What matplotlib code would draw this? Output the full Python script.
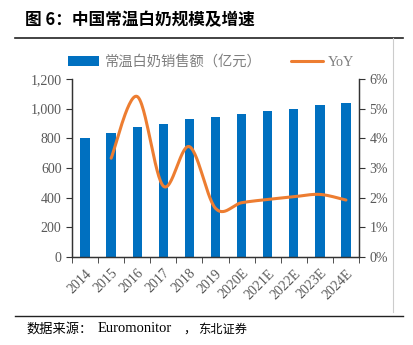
import numpy as np
import matplotlib
matplotlib.use('Agg')
import matplotlib.pyplot as plt
from matplotlib.ticker import FuncFormatter, FixedLocator

years = ['2014', '2015', '2016', '2017', '2018', '2019',
         '2020E', '2021E', '2022E', '2023E', '2024E']
sales = [803, 833, 877, 900, 931, 946, 963, 981, 1001, 1024, 1037]
yoy = [np.nan, 3.33, 5.41, 2.39, 3.72, 1.64, 1.83, 1.94, 2.03, 2.11, 1.92]

blue = '#0070C0'
orange = '#ED7D31'
gray = '#595959'
serif = ['Liberation Serif', 'Noto Sans CJK SC']
cjk = ['Noto Sans CJK SC', 'DejaVu Sans']


def smooth(x, y, n=30):
  # catmull-rom style curve through the points, like Excel smoothed lines
  x, y = np.asarray(x, float), np.asarray(y, float)
  px, py = [], []
  for i in range(len(x) - 1):
    x0, y0 = (x[i-1], y[i-1]) if i > 0 else (x[i], y[i])
    x3, y3 = (x[i+2], y[i+2]) if i + 2 < len(x) else (x[i+1], y[i+1])
    x1, y1, x2, y2 = x[i], y[i], x[i+1], y[i+1]
    t = np.linspace(0, 1, n)
    c1x, c1y = x1 + (x2 - x0) / 6, y1 + (y2 - y0) / 6
    c2x, c2y = x2 - (x3 - x1) / 6, y2 - (y3 - y1) / 6
    bx = (1-t)**3*x1 + 3*(1-t)**2*t*c1x + 3*(1-t)*t**2*c2x + t**3*x2
    by = (1-t)**3*y1 + 3*(1-t)**2*t*c1y + 3*(1-t)*t**2*c2y + t**3*y2
    px.extend(bx)
    py.extend(by)
  return np.array(px), np.array(py)


fig = plt.figure(figsize=(4.13, 3.45), dpi=100)
ax = fig.add_axes([72/413, 1-257/345, 287/413, 178/345])
ax2 = ax.twinx()

x = np.arange(len(years))
bars = ax.bar(x, sales, width=0.36, color=blue, zorder=2)
xs, ys = smooth(x[1:], np.array(yoy[1:]))
line, = ax2.plot(xs, ys, color=orange, lw=2.2, solid_capstyle='round')

ax.set_xlim(-0.5, len(years) - 0.5)
ax.set_ylim(0, 1200)
ax.set_yticks(np.arange(0, 1201, 200))
ax.yaxis.set_major_formatter(FuncFormatter(lambda v, p: f'{int(v):,}'))
ax2.set_ylim(0, 6)
ax2.set_yticks(np.arange(0, 7, 1))
ax2.yaxis.set_major_formatter(FuncFormatter(lambda v, p: f'{int(v)}%'))

ax.set_xticks(x)
ax.set_xticklabels(years, rotation=45, ha='right', rotation_mode='anchor')
ax.xaxis.set_minor_locator(FixedLocator(np.arange(-0.5, len(years), 1)))
ax.tick_params(axis='x', which='major', length=0, pad=7)
ax.tick_params(axis='x', which='minor', length=4, direction='out', color='#333333')

for a in (ax, ax2):
  a.tick_params(axis='y', length=4, direction='out', color='#333333', labelcolor=gray, labelsize=10)
  a.spines['top'].set_visible(False)
  for s in ('left', 'right', 'bottom'):
    a.spines[s].set_color('#333333')
    a.spines[s].set_linewidth(0.9)
  for lbl in a.get_yticklabels() + a.get_xticklabels():
    lbl.set_family(serif)
ax.tick_params(axis='x', labelcolor=gray, labelsize=10)
for lbl in ax.get_xticklabels():
  lbl.set_family(serif)

fig.legend([bars, line], ['常温白奶销售额（亿元）', 'YoY'], loc='center',
           bbox_to_anchor=(211/413, 1-62/345), ncol=2, frameon=False,
           prop={'family': serif, 'size': 10.3}, labelcolor='#7f7f7f',
           handlelength=2.2, handletextpad=0.35, columnspacing=2.1)

fig.text(25/413, 1-20/345, '图 6：中国常温白奶规模及增速', family=cjk,
         fontsize=12, fontweight='bold', va='center', ha='left')
fig.add_artist(plt.Line2D([15/413, 403/413], [1-38/345, 1-38/345], color='#222222', lw=1.2))
fig.add_artist(plt.Line2D([15/413, 403/413], [1-316/345, 1-316/345], color='#222222', lw=1.0))
fig.add_artist(plt.Line2D([393/413, 393/413], [1-38/345, 1-312/345], color='#cccccc', lw=0.8))

# source line: CJK and latin parts sized separately
sy = 1 - 329/345
fig.text(26/413, sy, '数据来源：', family=cjk, fontsize=9.5, va='center', ha='left')
fig.text(98/413, sy, 'Euromonitor', family=serif, fontsize=10.5, va='center', ha='left')
fig.text(183/413, sy, '，', family=cjk, fontsize=9, va='center', ha='left')
fig.text(198/413, sy, '东北证券', family=cjk, fontsize=8.8, va='center', ha='left')

fig.savefig('out.png', dpi=100)
